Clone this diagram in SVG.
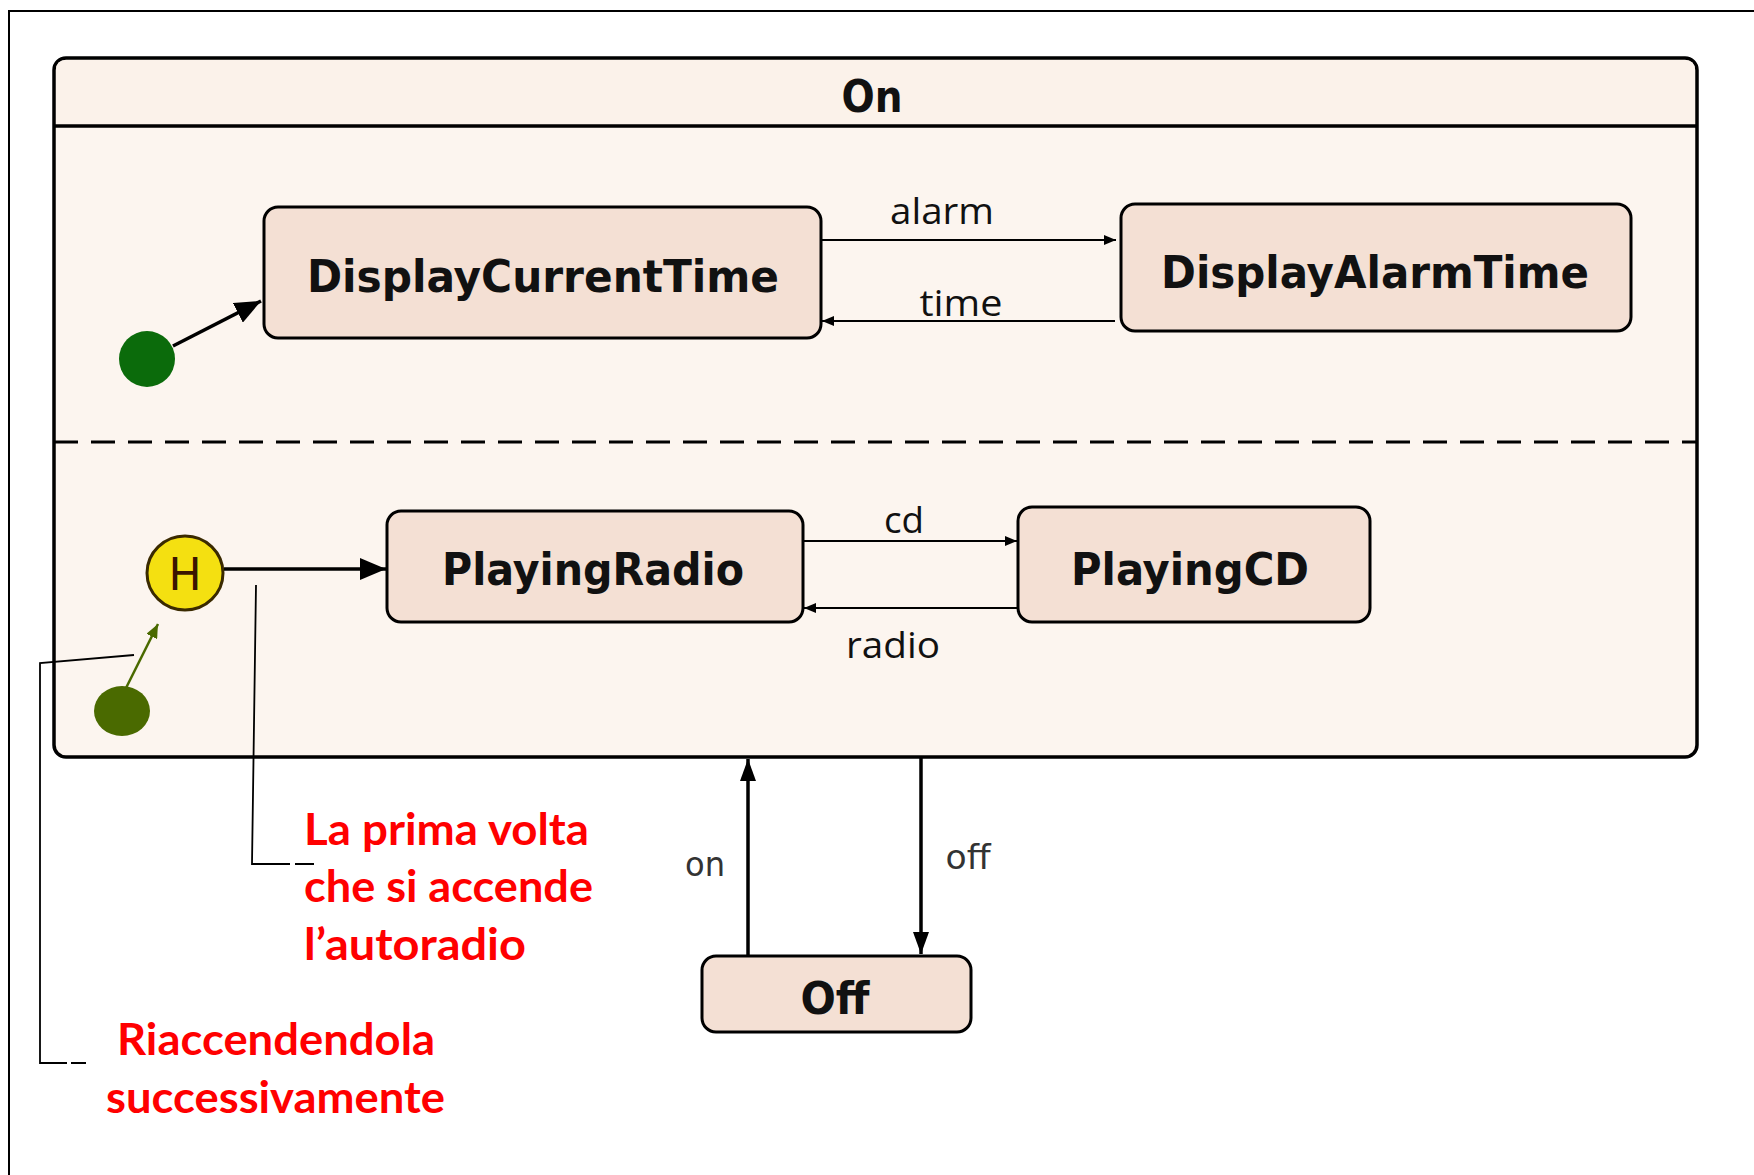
<svg xmlns="http://www.w3.org/2000/svg" width="1754" height="1175" viewBox="0 0 1754 1175">
<style>
.frame{fill:none;stroke:#000;stroke-width:2}
.cont{fill:#fcf5ef;stroke:#000;stroke-width:3.5}
.hdr{fill:#fbf2ea}
.state{fill:#f4e0d4;stroke:#000;stroke-width:3}
.sname{font-family:"DejaVu Sans Condensed","DejaVu Sans",sans-serif;font-weight:bold;font-size:44px;fill:#111;text-anchor:middle}
.lbl{font-family:"Open Sans","Liberation Sans",sans-serif;font-size:36px;fill:#111;text-anchor:middle}
.lbl2{font-family:"DejaVu Sans Condensed","DejaVu Sans",sans-serif;font-size:34px;fill:#333;text-anchor:middle}
.note{font-family:Lato,"Liberation Sans",sans-serif;font-weight:bold;font-size:44px;fill:#ff0000}
.thin{fill:none;stroke:#000;stroke-width:1.8}
.thick{fill:none;stroke:#000;stroke-width:3.5}
.ann{fill:none;stroke:#000;stroke-width:1.8}
</style>
<defs>
<marker id="ah-s" markerUnits="userSpaceOnUse" viewBox="0 0 12 10" refX="12" refY="5" markerWidth="12" markerHeight="10" orient="auto"><path d="M0,0 L12,5 L0,10 z" fill="#000"/></marker>
<marker id="ah-b" markerUnits="userSpaceOnUse" viewBox="0 0 26 22" refX="26" refY="11" markerWidth="26" markerHeight="22" orient="auto"><path d="M0,0 L26,11 L0,22 z" fill="#000"/></marker>
<marker id="ah-m" markerUnits="userSpaceOnUse" viewBox="0 0 22 16" refX="22" refY="8" markerWidth="22" markerHeight="16" orient="auto"><path d="M0,0 L22,8 L0,16 z" fill="#000"/></marker>
<marker id="ah-o" markerUnits="userSpaceOnUse" viewBox="0 0 14 12" refX="14" refY="6" markerWidth="14" markerHeight="12" orient="auto"><path d="M0,0 L14,6 L0,12 z" fill="#4a6a00"/></marker>
</defs>
<rect width="1754" height="1175" fill="#fff"/>
<path class="frame" d="M9,1175 L9,11 L1754,11"/>

<g id="On">
<rect class="cont" x="54" y="58" width="1643" height="699" rx="12"/>
<path class="hdr" d="M56,126 L56,70 Q56,60 66,60 L1685,60 Q1695,60 1695,70 L1695,126 z"/>
<line x1="54" y1="126" x2="1697" y2="126" stroke="#000" stroke-width="3.5"/>
<text x="872" y="112" class="sname" textLength="61" lengthAdjust="spacingAndGlyphs">On</text>
<line x1="54" y1="442" x2="1697" y2="442" stroke="#000" stroke-width="3" stroke-dasharray="24,13"/>
</g>

<g id="init1"><circle cx="147" cy="359" r="28" fill="#0b6b0b"/></g>
<g id="DisplayCurrentTime">
<rect class="state" x="264" y="207" width="557" height="131" rx="14"/>
<text x="543" y="292" class="sname" textLength="472" lengthAdjust="spacingAndGlyphs">DisplayCurrentTime</text>
</g>
<g id="DisplayAlarmTime">
<rect class="state" x="1121" y="204" width="510" height="127" rx="14"/>
<text x="1375" y="288" class="sname" textLength="428" lengthAdjust="spacingAndGlyphs">DisplayAlarmTime</text>
</g>
<g id="history">
<ellipse cx="185" cy="573" rx="38" ry="37" fill="#f4e011" stroke="#3a2a00" stroke-width="3"/>
<text x="185" y="590" font-family="DejaVu Sans,sans-serif" font-size="44" fill="#3a1500" text-anchor="middle">H</text>
</g>
<g id="init2"><ellipse cx="122" cy="711" rx="28" ry="25" fill="#4a6a00"/></g>
<g id="PlayingRadio">
<rect class="state" x="387" y="511" width="416" height="111" rx="14"/>
<text x="593" y="585" class="sname" textLength="302" lengthAdjust="spacingAndGlyphs">PlayingRadio</text>
</g>
<g id="PlayingCD">
<rect class="state" x="1018" y="507" width="352" height="115" rx="14"/>
<text x="1190" y="585" class="sname" textLength="238" lengthAdjust="spacingAndGlyphs">PlayingCD</text>
</g>
<g id="Off">
<rect class="state" x="702" y="956" width="269" height="76" rx="14"/>
<text x="835" y="1014" class="sname" textLength="69" lengthAdjust="spacingAndGlyphs">Off</text>
</g>

<g id="connectors">
<line class="thick" x1="173" y1="346" x2="261" y2="301" stroke-width="4" marker-end="url(#ah-b)"/>
<line class="thin" x1="821" y1="240" x2="1116" y2="240" marker-end="url(#ah-s)"/>
<line class="thin" x1="1115" y1="321" x2="822" y2="321" marker-end="url(#ah-s)"/>
<line class="thick" x1="224" y1="569" x2="386" y2="569" marker-end="url(#ah-b)"/>
<line class="thin" x1="803" y1="541" x2="1017" y2="541" marker-end="url(#ah-s)"/>
<line class="thin" x1="1018" y1="608" x2="804" y2="608" marker-end="url(#ah-s)"/>
<line x1="126" y1="688" x2="158" y2="624" stroke="#4a6a00" stroke-width="2.5" marker-end="url(#ah-o)"/>
<line class="thick" x1="748" y1="956" x2="748" y2="759" stroke-width="3" marker-end="url(#ah-m)"/>
<line class="thick" x1="921" y1="757" x2="921" y2="954" stroke-width="3" marker-end="url(#ah-m)"/>
<text x="942" y="224" class="lbl" textLength="104" lengthAdjust="spacingAndGlyphs">alarm</text>
<text x="961" y="316" class="lbl" textLength="83" lengthAdjust="spacingAndGlyphs">time</text>
<text x="904" y="533" class="lbl" textLength="40" lengthAdjust="spacingAndGlyphs">cd</text>
<text x="893" y="658" class="lbl" textLength="94" lengthAdjust="spacingAndGlyphs">radio</text>
<text x="705" y="876" class="lbl2" textLength="40" lengthAdjust="spacingAndGlyphs">on</text>
<text x="968" y="869" class="lbl2" textLength="45" lengthAdjust="spacingAndGlyphs">off</text>
</g>

<g id="notes">
<path class="ann" d="M134,655 L40,663 L40,1063 L67,1063 M71,1063 L86,1063"/>
<path class="ann" d="M256,585 L252,864 L290,864 M295,864 L314,864"/>
<text class="note" x="304" y="845" textLength="285" lengthAdjust="spacingAndGlyphs">La prima volta</text>
<text class="note" x="304" y="902" textLength="289" lengthAdjust="spacingAndGlyphs">che si accende</text>
<text class="note" x="304" y="960" textLength="222" lengthAdjust="spacingAndGlyphs">l’autoradio</text>
<text class="note" x="117" y="1055" textLength="318" lengthAdjust="spacingAndGlyphs">Riaccendendola</text>
<text class="note" x="106" y="1113" textLength="339" lengthAdjust="spacingAndGlyphs">successivamente</text>
</g>
</svg>
